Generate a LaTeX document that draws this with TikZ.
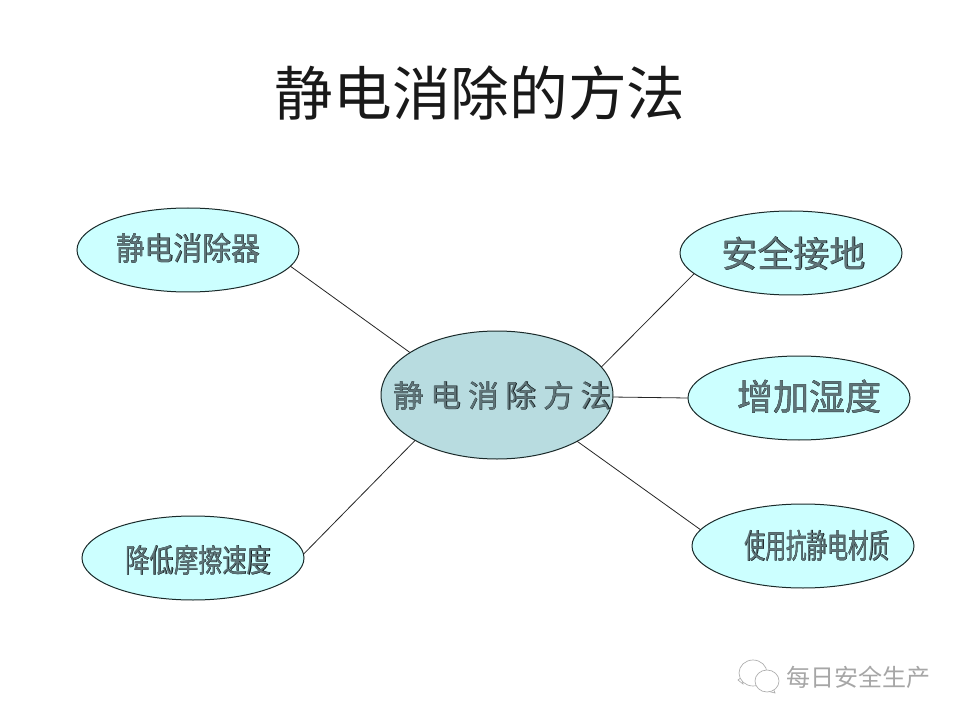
\documentclass[tikz,border=0pt]{standalone}
\usepackage{fontspec}
\usepackage{graphicx}
\usetikzlibrary{shapes.geometric}
\newfontfamily\cjk{Noto Sans CJK SC}
\newfontfamily\cjkwide[LetterSpace=22.5]{Noto Sans CJK SC}
\definecolor{outerfill}{HTML}{CCFFFF}
\definecolor{centerfill}{HTML}{B8DCE0}
\definecolor{bordercol}{HTML}{1A2A2A}
\definecolor{marktext}{HTML}{A6A6A6}
\definecolor{edgecol}{HTML}{101A1C}
\definecolor{facecol}{HTML}{5F7478}
% #1 x shift (doubled), #2 y shift, #3 font, #4 x scale, #5 text: a dark emboldened edge with a paler face
\newcommand{\inside}[5]{\makebox[0pt]{\hspace*{#1}\raisebox{\dimexpr-.38em-#2\relax}[0pt][0pt]{#3\scalebox{#4}[1]{\rlap{\addfontfeature{FakeBold=0.7}\textcolor{edgecol}{#5}}\textcolor{facecol}{#5}}}}}
\tikzset{
  bubble/.style={ellipse,draw=bordercol,line width=.75pt,fill=outerfill,inner sep=0pt,outer sep=0pt,
    minimum width=166.5pt,minimum height=63pt},
  hub/.style={ellipse,draw=bordercol,line width=.75pt,fill=centerfill,inner sep=0pt,outer sep=0pt,
    minimum width=174pt,minimum height=96pt},
  link/.style={draw=black!85,line width=.6pt},
  iconline/.style={draw=black!32,line width=.5pt,fill=white}
}
\begin{document}
\begin{tikzpicture}[x=.75pt,y=-.75pt]
\useasboundingbox[fill=white] (0,0) rectangle (960,720);
\node[font=\cjk\fontsize{44}{50}\selectfont,text=black!90] (title) at (480,93) {静电消除的方法};

\node[hub] (c) at (497,395) {\inside{8pt}{5.25pt}{\cjkwide\fontsize{23}{27}\selectfont}{1}{静电消除方法}};
\node[bubble] (a) at (188,250) {\inside{0pt}{3.75pt}{\cjk\fontsize{24}{28}\selectfont}{.9}{静电消除器}};
\node[bubble] (b) at (193,558) {\inside{8pt}{6.75pt}{\cjk\fontsize{24}{28}\selectfont}{.76}{降低摩擦速度}};
\node[bubble] (d) at (791,253) {\inside{4pt}{6.75pt}{\cjk\fontsize{27}{31}\selectfont}{1}{安全接地}};
\node[bubble] (e) at (799,398) {\inside{15pt}{5.25pt}{\cjk\fontsize{27}{31}\selectfont}{1}{增加湿度}};
\node[bubble] (f) at (803,546) {\inside{21pt}{5.25pt}{\cjk\fontsize{25}{29}\selectfont}{.62}{使用抗静电材质}};

\draw[link] (a.-9) -- (c.154);
\draw[link] (b.2.5) -- (c.209.6);
\draw[link] (d.192) -- (c.15.5);
\draw[link] (e.180) -- (c.-1.5);
\draw[link] (f.171) -- (c.-30.6);

% watermark icon
\draw[iconline] (738,680) -- (743,684) -- (742,677) -- cycle;
\draw[iconline] (753,673) ellipse (14 and 13);
\draw[iconline] (773,688) -- (775,693) -- (767,691) -- cycle;
\draw[iconline] (767,681) ellipse (12 and 11);
\node[font=\cjk\fontsize{18}{21}\selectfont,text=marktext] (mark) at (858,677) {每日安全生产};
\end{tikzpicture}
\end{document}
